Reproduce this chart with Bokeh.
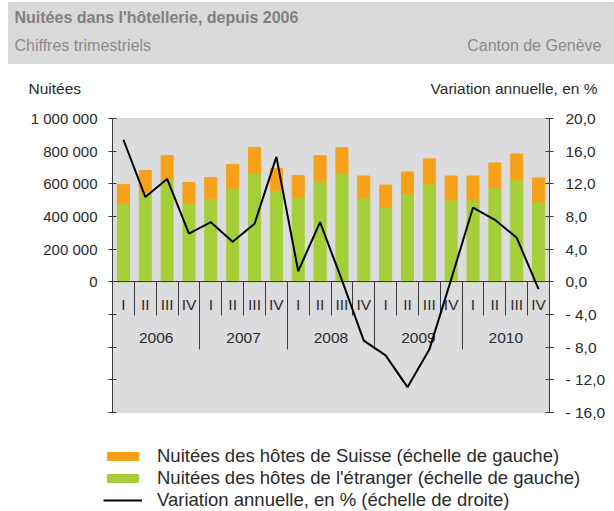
from bokeh.plotting import figure
from bokeh.models import (Range1d, LinearAxis, FixedTicker, Label, Legend,
                          LegendItem, ColumnDataSource, BoxAnnotation)
from bokeh.embed import file_html
from bokeh.resources import INLINE

# ---------------- data ----------------
quarters = ["I", "II", "III", "IV"] * 5
years = ["2006", "2007", "2008", "2009", "2010"]
etranger = [478000, 548000, 624000, 478000, 511000, 573000, 663000, 561000,
            515000, 621000, 663000, 513000, 460000, 538000, 599000, 501000,
            501000, 575000, 624000, 489000]
suisse = [117000, 134000, 150000, 130000, 128000, 146000, 160000, 133000,
          136000, 151000, 158000, 135000, 133000, 135000, 154000, 147000,
          147000, 153000, 159000, 147000]
variation = [17.4, 10.4, 12.6, 5.9, 7.3, 4.9, 7.1, 15.3, 1.3, 7.3,
             0.2, -7.2, -9.0, -12.9, -8.3, 0.3, 9.1, 7.6, 5.4, -0.9]
left_ticks = [-800000, -600000, -400000, -200000, 0, 200000, 400000,
              600000, 800000, 1000000]
left_labels = ["", "", "", "", "0", "200 000", "400 000", "600 000",
               "800 000", "1 000 000"]
right_ticks = [-16, -12, -8, -4, 0, 4, 8, 12, 16, 20]
right_labels = ["- 16,0", "- 12,0", "- 8,0", "- 4,0", "0,0", "4,0", "8,0",
                "12,0", "16,0", "20,0"]

FONT = "Liberation Sans"
ORANGE = "#f7a11a"
GREEN = "#a6ce39"
TXT = "#2b2b2b"
AX = "#3a3a3a"

n = len(quarters)
pos = [i + 0.5 for i in range(n)]
year_pos = [4 * k + 2 for k in range(len(years))]

# ---------------- geometry (canvas = frame) ----------------
W, H = 614, 511
PL, PR, PT, PB = 112, 65, 118, 99          # plot-area insets in px
LMIN, LMAX = left_ticks[0], left_ticks[-1]
RMIN, RMAX = right_ticks[0], right_ticks[-1]
ppx = (W - PL - PR) / n                    # px per quarter
ppy = (LMAX - LMIN) / (H - PT - PB)        # value per px
rpy = (RMAX - RMIN) / (H - PT - PB)

src = ColumnDataSource(dict(x=pos, etranger=etranger, suisse=suisse,
                            variation=variation))

p = figure(width=W, height=H, output_backend="svg", toolbar_location=None,
           x_range=Range1d(-PL / ppx, n + PR / ppx),
           y_range=Range1d(LMIN - PB * ppy, LMAX + PT * ppy),
           x_axis_type=None, y_axis_type=None, min_border=0,
           background_fill_color="white", border_fill_color="white",
           outline_line_color=None)
p.extra_y_ranges = {"pct": Range1d(RMIN - PB * rpy, RMAX + PT * rpy)}

# plot area background
p.add_layout(BoxAnnotation(left=0, right=n, bottom=LMIN, top=LMAX,
                           fill_color="#dcdcde", fill_alpha=1,
                           line_color="#a0a0a0", line_width=1,
                           level="underlay"))

# header band
p.add_layout(BoxAnnotation(left=8, right=W + 10, bottom=H - 63, top=H - 2,
                           left_units="screen", right_units="screen",
                           bottom_units="screen", top_units="screen",
                           fill_color="#d9d9d9", fill_alpha=1,
                           line_color="#a8a8a8", line_width=1,
                           level="underlay"))
p.add_layout(Label(x=14, y=H - 17, x_units="screen", y_units="screen",
                   text="Nuitées dans l'hôtellerie, depuis 2006",
                   text_font=FONT, text_font_size="16px",
                   text_font_style="bold", text_color="#7f7f7f",
                   text_baseline="middle"))
p.add_layout(Label(x=14, y=H - 45, x_units="screen", y_units="screen",
                   text="Chiffres trimestriels",
                   text_font=FONT, text_font_size="16px",
                   text_color="#8a8a8a", text_baseline="middle"))
p.add_layout(Label(x=601, y=H - 45, x_units="screen", y_units="screen",
                   text="Canton de Genève", text_align="right",
                   text_font=FONT, text_font_size="16px",
                   text_color="#8a8a8a", text_baseline="middle"))

# bars and line
bars = p.vbar_stack(["etranger", "suisse"], x="x", width=0.55, source=src,
                    color=[GREEN, ORANGE])
line = p.line("x", "variation", source=src, y_range_name="pct",
              line_color="black", line_width=2, level="overlay")

# y axes
yl = LinearAxis(ticker=FixedTicker(ticks=left_ticks),
                major_label_overrides=dict(zip(left_ticks, left_labels)),
                fixed_location=0, bounds=(LMIN, LMAX))
yr = LinearAxis(y_range_name="pct", ticker=FixedTicker(ticks=right_ticks),
                major_label_overrides=dict(zip(right_ticks, right_labels)),
                fixed_location=n, bounds=(RMIN, RMAX))
for ax in (yl, yr):
    ax.major_tick_in = 4
    ax.major_tick_out = 4
    ax.minor_tick_out = 0
    ax.minor_tick_in = 0
    ax.axis_line_color = AX
    ax.major_tick_line_color = AX
    ax.major_label_text_font = FONT
    ax.major_label_text_color = TXT
yl.major_label_text_font_size = "15px"
yr.major_label_text_font_size = "15.5px"
yl.major_label_standoff = 11
yr.major_label_standoff = 12
p.add_layout(yl, "left")
p.add_layout(yr, "right")

# category axes (quarters, years) at zero
xq = LinearAxis(ticker=FixedTicker(ticks=pos, minor_ticks=list(range(1, n))),
                major_label_overrides=dict(zip(pos, quarters)),
                fixed_location=0, bounds=(0, n))
xy = LinearAxis(ticker=FixedTicker(ticks=year_pos,
                                   minor_ticks=[4, 8, 12, 16]),
                major_label_overrides=dict(zip(year_pos, years)),
                fixed_location=0, bounds=(0, n))
for ax in (xq, xy):
    ax.major_tick_in = 0
    ax.major_tick_out = 0
    ax.minor_tick_in = 0
    ax.minor_tick_line_color = AX
    ax.major_label_text_font = FONT
    ax.major_label_text_font_size = "15.5px"
    ax.major_label_text_color = TXT
xq.minor_tick_out = 34
xq.major_label_standoff = -20
xq.axis_line_color = AX
xy.minor_tick_out = 68
xy.major_label_standoff = -17
xy.axis_line_color = None
p.add_layout(xq, "below")
p.add_layout(xy, "below")

# axis titles
p.add_layout(Label(x=28, y=H - 88, x_units="screen", y_units="screen",
                   text="Nuitées", text_font=FONT, text_font_size="15.5px",
                   text_color=TXT, text_baseline="middle"))
p.add_layout(Label(x=597, y=H - 88, x_units="screen", y_units="screen",
                   text="Variation annuelle, en %", text_align="right",
                   text_font=FONT, text_font_size="15.5px",
                   text_color=TXT, text_baseline="middle"))

legend = Legend(items=[
    LegendItem(label="Nuitées des hôtes de Suisse (échelle de gauche)",
               renderers=[bars[1]]),
    LegendItem(label="Nuitées des hôtes de l'étranger (échelle de gauche)",
               renderers=[bars[0]]),
    LegendItem(label="Variation annuelle, en % (échelle de droite)",
               renderers=[line]),
], location=(103, 0), orientation="vertical", glyph_width=39,
    glyph_height=10, label_height=22, label_standoff=15, spacing=0,
    padding=0, margin=0, border_line_color=None, background_fill_alpha=0,
    label_text_font=FONT, label_text_font_size="18.5px",
    label_text_color=TXT)
p.add_layout(legend, "center")

open("out.html", "w").write(file_html(p, INLINE))
